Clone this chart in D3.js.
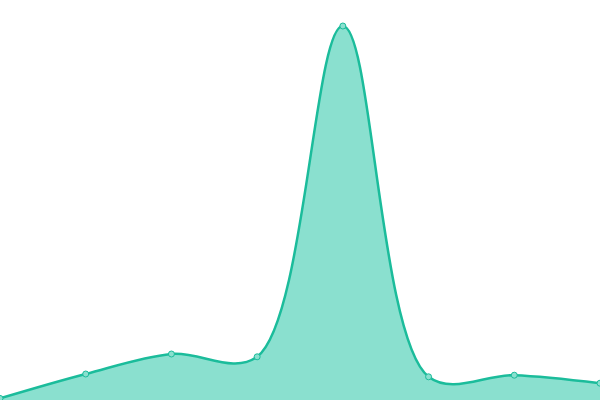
<!DOCTYPE html>
<html>
<head>
<meta charset="utf-8">
<script src="https://cdn.jsdelivr.net/npm/d3@7"></script>
<style>
  body { margin: 0; background: #fff; }
  svg { display: block; }
</style>
</head>
<body>
<svg id="chart" width="600" height="400"></svg>
<script>
// data
var categories = ["A", "B", "C", "D", "E", "F", "G", "H"];
var values = [0.4, 6.5, 11.5, 10.8, 93.5, 5.8, 6.2, 4.2];
var yMax = 100;

var width = 600, height = 400;
var svg = d3.select("#chart");

var x = d3.scalePoint()
  .domain(categories)
  .range([0, width]);

var y = d3.scaleLinear()
  .domain([0, yMax])
  .range([height, 0]);

var curve = d3.curveCatmullRom.alpha(0.5);

var area = d3.area()
  .x(function(d, i) { return x(categories[i]); })
  .y0(height)
  .y1(function(d) { return y(d); })
  .curve(curve);

var line = d3.line()
  .x(function(d, i) { return x(categories[i]); })
  .y(function(d) { return y(d); })
  .curve(curve);

svg.append("path")
  .datum(values)
  .attr("d", area)
  .attr("fill", "#8ae0cf");

svg.append("path")
  .datum(values)
  .attr("d", line)
  .attr("fill", "none")
  .attr("stroke", "#1bbc9b")
  .attr("stroke-width", 2.5);

svg.selectAll("circle")
  .data(values)
  .enter()
  .append("circle")
  .attr("cx", function(d, i) { return x(categories[i]); })
  .attr("cy", function(d) { return y(d); })
  .attr("r", 3)
  .attr("fill", "#8ae0cf")
  .attr("stroke", "#1bbc9b")
  .attr("stroke-width", 1);
</script>
</body>
</html>
